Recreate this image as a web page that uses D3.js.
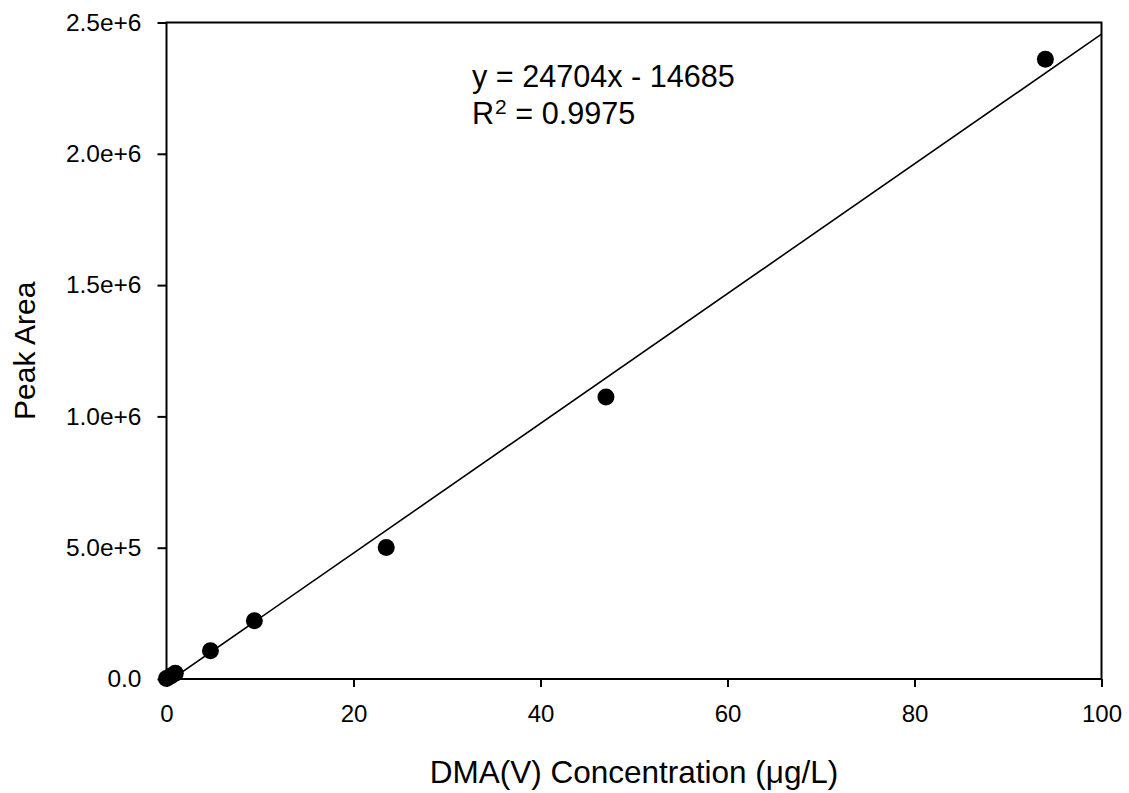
<!DOCTYPE html>
<html>
<head>
<meta charset="utf-8">
<script src="https://cdn.jsdelivr.net/npm/d3@7/dist/d3.min.js"></script>
<style>
  html, body { margin: 0; padding: 0; background: #fff; }
  svg { display: block; font-family: "Liberation Sans", Arial, sans-serif; }
</style>
</head>
<body>
<svg id="chart" width="1129" height="793"></svg>
<script>
// DMA(V) calibration standards: concentration (µg/L) vs peak area
const concentration = [0, 0.47, 0.94, 4.7, 9.4, 23.5, 47, 94];
const peakArea = [2000, 11000, 22000, 108000, 222000, 501000, 1074000, 2360000];

// Linear fit reported for the calibration
const slope = 24704;
const intercept = -14685;
const fitLabel = "y = 24704x - 14685";
const r2Value = "0.9975";

const xTicks = [0, 20, 40, 60, 80, 100];
const yTicks = [0, 500000, 1000000, 1500000, 2000000, 2500000];
const yTickLabels = ["0.0", "5.0e+5", "1.0e+6", "1.5e+6", "2.0e+6", "2.5e+6"];

const margin = { left: 166.5, top: 22.5, right: 1101.5, bottom: 679 };

const svg = d3.select("#chart");

const x = d3.scaleLinear().domain([0, 100]).range([margin.left, margin.right]);
const y = d3.scaleLinear().domain([0, 2500000]).range([margin.bottom, margin.top]);

// Plot frame
svg.append("rect")
  .attr("x", margin.left).attr("y", margin.top)
  .attr("width", margin.right - margin.left)
  .attr("height", margin.bottom - margin.top)
  .attr("fill", "none").attr("stroke", "#000").attr("stroke-width", 2);

// Bottom axis
const xAxis = svg.append("g")
  .attr("transform", `translate(0,${margin.bottom})`)
  .call(d3.axisBottom(x).tickValues(xTicks).tickSize(8).tickPadding(18).tickFormat(d3.format("d")));
xAxis.select(".domain").remove();
xAxis.selectAll(".tick line").attr("stroke-width", 2);
xAxis.selectAll(".tick text").attr("font-size", 24).attr("fill", "#000")
  .attr("font-family", "'Liberation Sans', Arial, sans-serif");

// Left axis
const yAxis = svg.append("g")
  .attr("transform", `translate(${margin.left},0)`)
  .call(d3.axisLeft(y).tickValues(yTicks).tickSize(9).tickPadding(16)
    .tickFormat((d, i) => yTickLabels[i]));
yAxis.select(".domain").remove();
yAxis.selectAll(".tick line").attr("stroke-width", 2);
yAxis.selectAll(".tick text").attr("font-size", 24.5).attr("fill", "#000")
  .attr("font-family", "'Liberation Sans', Arial, sans-serif");

// Clip region for the fitted line
svg.append("clipPath").attr("id", "plot-clip")
  .append("rect")
  .attr("x", margin.left).attr("y", margin.top)
  .attr("width", margin.right - margin.left)
  .attr("height", margin.bottom - margin.top);

// Regression line across the x range
const fitX = [0, 100];
svg.append("path")
  .attr("clip-path", "url(#plot-clip)")
  .datum(fitX)
  .attr("d", d3.line().x(d => x(d)).y(d => y(slope * d + intercept)))
  .attr("fill", "none").attr("stroke", "#000").attr("stroke-width", 1.6);

// Data points
svg.append("g").selectAll("circle")
  .data(concentration.map((c, i) => [c, peakArea[i]]))
  .join("circle")
  .attr("cx", d => x(d[0]))
  .attr("cy", d => y(d[1]))
  .attr("r", 8.5)
  .attr("fill", "#000");

// Equation annotation
const eq = svg.append("g").attr("font-size", 30.6).attr("fill", "#000");
eq.append("text").attr("x", 472).attr("y", 87).text(fitLabel);
const r2 = eq.append("text").attr("x", 472).attr("y", 124);
r2.append("tspan").text("R");
r2.append("tspan").attr("font-size", 21).attr("dx", 1).attr("dy", -10).text("2");
r2.append("tspan").attr("dy", 10).text(" = " + r2Value);

// Axis titles
svg.append("text")
  .attr("x", (margin.left + margin.right) / 2).attr("y", 783)
  .attr("text-anchor", "middle").attr("font-size", 31.5).attr("fill", "#000")
  .text("DMA(V) Concentration (\u03BCg/L)");

svg.append("text")
  .attr("transform", `translate(35,${(margin.top + margin.bottom) / 2}) rotate(-90)`)
  .attr("text-anchor", "middle").attr("font-size", 30).attr("fill", "#000")
  .text("Peak Area");
</script>
</body>
</html>
